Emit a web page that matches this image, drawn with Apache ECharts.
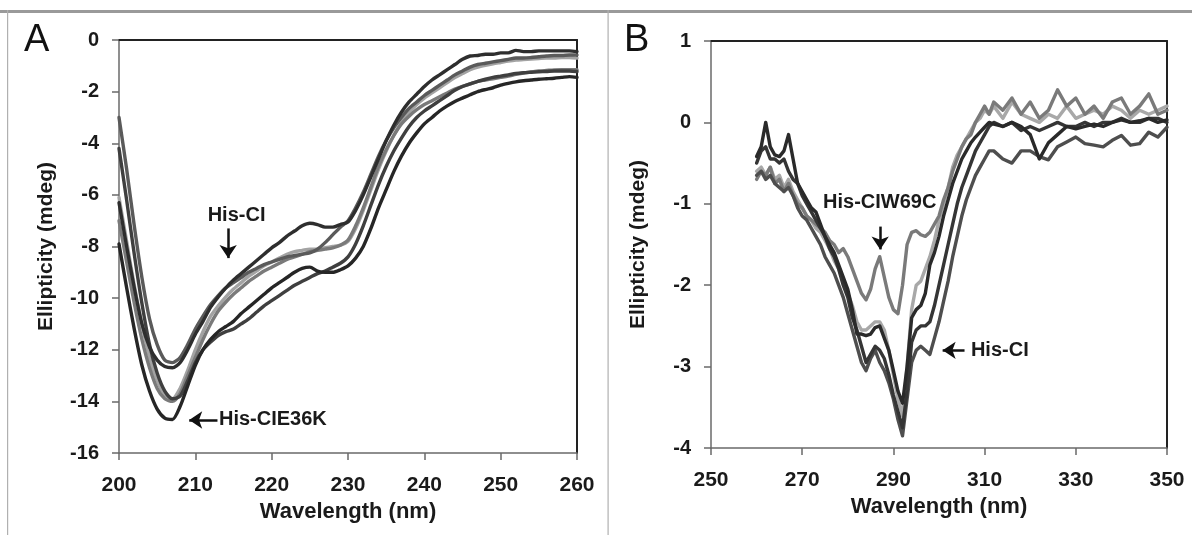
<!DOCTYPE html>
<html><head><meta charset="utf-8">
<script src="https://cdn.jsdelivr.net/npm/echarts@6/dist/echarts.min.js"></script>
<style>html,body{margin:0;padding:0;background:#fff}#c{width:1192px;height:535px}</style>
</head><body><div id="c"></div><script>
// ---------- Panel A data (wavelength nm, ellipticity mdeg) ----------
const wlA = [200,201,202,203,204,205,206,207,208,209,210,211,212,213,214,215,216,217,218,219,220,221,222,223,224,225,226,227,228,229,230,231,232,233,234,235,236,237,238,239,240,241,242,243,244,245,246,247,248,249,250,251,252,253,254,255,256,257,258,259,260];
const A_hisCI = [-6.3,-8.0,-9.6,-11.0,-11.9,-12.4,-12.65,-12.7,-12.5,-12.0,-11.4,-10.9,-10.35,-9.95,-9.6,-9.3,-9.05,-8.8,-8.55,-8.3,-8.05,-7.85,-7.6,-7.4,-7.2,-7.1,-7.15,-7.25,-7.25,-7.15,-7.05,-6.6,-6.0,-5.3,-4.6,-3.9,-3.3,-2.8,-2.4,-2.1,-1.8,-1.55,-1.35,-1.15,-0.95,-0.75,-0.62,-0.6,-0.55,-0.55,-0.5,-0.5,-0.4,-0.45,-0.45,-0.42,-0.42,-0.42,-0.42,-0.42,-0.45];
const A_s2 = [-3.0,-5.0,-7.2,-9.2,-10.8,-11.8,-12.4,-12.5,-12.3,-11.8,-11.2,-10.7,-10.25,-9.9,-9.6,-9.4,-9.2,-9.0,-8.85,-8.7,-8.6,-8.5,-8.4,-8.35,-8.3,-8.25,-8.1,-7.85,-7.55,-7.25,-7.0,-6.5,-5.9,-5.2,-4.5,-3.9,-3.4,-3.0,-2.65,-2.4,-2.15,-1.95,-1.75,-1.55,-1.35,-1.2,-1.05,-0.95,-0.9,-0.85,-0.8,-0.75,-0.7,-0.7,-0.68,-0.65,-0.62,-0.6,-0.6,-0.58,-0.58];
const A_s3 = [-6.1,-7.8,-9.5,-11.0,-12.3,-13.2,-13.75,-13.9,-13.5,-12.8,-12.0,-11.3,-10.7,-10.3,-9.95,-9.65,-9.4,-9.15,-8.95,-8.75,-8.6,-8.45,-8.3,-8.2,-8.15,-8.1,-8.1,-8.05,-8.0,-7.95,-7.8,-7.3,-6.6,-5.8,-5.0,-4.3,-3.7,-3.2,-2.8,-2.5,-2.25,-2.05,-1.85,-1.65,-1.45,-1.3,-1.15,-1.05,-0.98,-0.92,-0.87,-0.82,-0.78,-0.76,-0.74,-0.72,-0.7,-0.7,-0.68,-0.68,-0.7];
const A_s4 = [-7.0,-8.6,-10.2,-11.6,-12.7,-13.5,-13.9,-14.0,-13.7,-13.0,-12.3,-11.6,-11.0,-10.5,-10.15,-9.85,-9.6,-9.35,-9.15,-8.95,-8.8,-8.65,-8.5,-8.4,-8.3,-8.2,-8.15,-8.1,-8.05,-7.95,-7.75,-7.2,-6.5,-5.7,-4.9,-4.25,-3.7,-3.25,-2.95,-2.7,-2.5,-2.35,-2.2,-2.05,-1.9,-1.8,-1.7,-1.6,-1.55,-1.5,-1.45,-1.4,-1.33,-1.28,-1.24,-1.2,-1.18,-1.16,-1.15,-1.15,-1.15];
const A_hisCIE36K = [-7.9,-9.6,-11.2,-12.6,-13.6,-14.3,-14.65,-14.7,-14.2,-13.4,-12.6,-12.0,-11.6,-11.3,-11.1,-10.9,-10.6,-10.35,-10.1,-9.85,-9.6,-9.4,-9.2,-9.0,-8.85,-8.8,-8.95,-9.0,-9.0,-8.9,-8.75,-8.45,-8.0,-7.3,-6.5,-5.8,-5.1,-4.5,-4.0,-3.6,-3.25,-3.0,-2.75,-2.55,-2.38,-2.25,-2.12,-2.0,-1.92,-1.85,-1.75,-1.68,-1.62,-1.58,-1.55,-1.52,-1.5,-1.48,-1.45,-1.42,-1.45];
const A_s6 = [-4.2,-6.2,-8.3,-10.2,-11.8,-12.9,-13.6,-13.9,-13.8,-13.2,-12.5,-12.0,-11.7,-11.45,-11.3,-11.2,-11.0,-10.8,-10.55,-10.3,-10.1,-9.9,-9.7,-9.5,-9.35,-9.2,-9.05,-8.95,-8.8,-8.65,-8.4,-7.9,-7.2,-6.4,-5.6,-4.9,-4.3,-3.8,-3.35,-3.0,-2.75,-2.55,-2.35,-2.15,-1.95,-1.8,-1.7,-1.6,-1.52,-1.45,-1.4,-1.35,-1.3,-1.27,-1.25,-1.23,-1.22,-1.2,-1.2,-1.2,-1.22];

// ---------- Panel B data ----------
const wlB = [260,261,262,263,264,265,266,267,268,269,270,271,272,273,274,275,276,277,278,279,280,281,282,283,284,285,286,287,288,289,290,291,292,293,294,295,296,297,298,299,300,301,302,303,304,305,306,307,308,309,310,311,312,314,316,318,320,322,324,326,328,330,332,334,336,338,340,342,344,346,348,350];
const B_s3 = [-0.42,-0.3,0.0,-0.3,-0.4,-0.42,-0.35,-0.15,-0.45,-0.75,-0.85,-0.95,-1.05,-1.1,-1.25,-1.4,-1.5,-1.6,-1.75,-1.9,-2.05,-2.3,-2.6,-2.6,-2.62,-2.6,-2.52,-2.5,-2.65,-2.8,-3.05,-3.3,-3.45,-3.0,-2.4,-2.3,-2.25,-2.1,-1.75,-1.6,-1.4,-1.15,-0.95,-0.75,-0.6,-0.45,-0.35,-0.25,-0.18,-0.12,-0.06,0.0,-0.02,-0.05,0.0,-0.05,-0.15,-0.45,-0.25,-0.15,-0.05,-0.08,-0.05,-0.02,-0.05,0.0,0.03,0.0,0.02,0.05,0.0,0.03];
const B_hisCI = [-0.65,-0.6,-0.7,-0.65,-0.75,-0.8,-0.85,-0.8,-0.9,-1.05,-1.15,-1.2,-1.3,-1.4,-1.5,-1.65,-1.75,-1.85,-2.0,-2.15,-2.35,-2.55,-2.75,-2.95,-3.05,-2.9,-2.8,-2.95,-3.05,-3.2,-3.4,-3.65,-3.85,-3.4,-2.95,-2.8,-2.75,-2.8,-2.85,-2.65,-2.45,-2.2,-1.95,-1.65,-1.4,-1.15,-0.95,-0.8,-0.65,-0.55,-0.45,-0.35,-0.35,-0.45,-0.5,-0.35,-0.35,-0.42,-0.46,-0.3,-0.24,-0.18,-0.26,-0.28,-0.3,-0.22,-0.16,-0.28,-0.26,-0.12,-0.18,-0.06];
const B_s2 = [-0.6,-0.55,-0.65,-0.55,-0.7,-0.65,-0.8,-0.7,-0.85,-0.95,-1.05,-1.15,-1.2,-1.3,-1.35,-1.45,-1.55,-1.7,-1.8,-1.95,-2.1,-2.25,-2.45,-2.55,-2.55,-2.5,-2.45,-2.45,-2.55,-2.8,-3.1,-3.4,-3.6,-3.0,-2.3,-2.0,-1.95,-1.8,-1.65,-1.45,-1.2,-1.0,-0.8,-0.55,-0.4,-0.3,-0.2,-0.1,0.0,0.05,0.15,0.1,0.2,0.05,0.25,0.1,0.05,0.0,0.1,0.05,0.2,0.05,0.1,0.15,0.1,0.2,0.15,0.05,0.15,0.1,0.15,0.2];
const B_hisCIW69C = [-0.7,-0.6,-0.65,-0.55,-0.75,-0.7,-0.85,-0.75,-0.9,-1.0,-1.05,-1.15,-1.2,-1.25,-1.3,-1.35,-1.45,-1.5,-1.6,-1.55,-1.65,-1.8,-1.95,-2.1,-2.18,-2.05,-1.8,-1.65,-1.9,-2.15,-2.3,-2.35,-2.0,-1.5,-1.35,-1.33,-1.38,-1.4,-1.35,-1.25,-1.15,-0.95,-0.8,-0.6,-0.45,-0.3,-0.2,-0.15,0.0,0.1,0.2,0.1,0.25,0.15,0.3,0.1,0.25,0.05,0.15,0.4,0.2,0.3,0.1,0.2,0.05,0.25,0.3,0.1,0.2,0.35,0.1,0.15];
const B_s5 = [-0.5,-0.35,-0.3,-0.45,-0.45,-0.5,-0.45,-0.6,-0.7,-0.75,-0.9,-1.0,-1.1,-1.2,-1.3,-1.4,-1.55,-1.65,-1.8,-2.0,-2.15,-2.4,-2.55,-2.75,-2.95,-2.85,-2.75,-2.8,-2.9,-3.1,-3.35,-3.55,-3.75,-3.3,-2.7,-2.55,-2.5,-2.5,-2.45,-2.25,-2.0,-1.75,-1.5,-1.25,-1.0,-0.8,-0.65,-0.5,-0.35,-0.25,-0.15,-0.05,0.0,-0.05,0.0,-0.1,-0.05,-0.1,-0.05,0.0,-0.05,-0.05,0.0,-0.05,0.0,0.0,0.05,0.0,0.0,0.05,0.05,0.0];

// ---------- Axis tick settings ----------
const xTicksA = {min:200, max:260, interval:10};
const yTicksA = {min:-16, max:0, interval:2};
const xTicksB = {min:250, max:350, interval:20};
const yTicksB = {min:-4, max:1, interval:1};

const FONT = '"Liberation Sans", Arial, Helvetica, sans-serif';
const chart = echarts.init(document.getElementById('c'), null, {renderer:'canvas'});

const lblStyle = {fontFamily:FONT, fontSize:20, fontWeight:'bold', color:'#1a1a1a'};
const nameStyle = {fontFamily:FONT, fontSize:21, fontWeight:'bold', color:'#1a1a1a'};

function xAxes(g, t){
  return [
    {type:'value', gridIndex:g, position:'bottom', min:t.min, max:t.max, interval:t.interval,
     axisLine:{show:true, onZero:false, lineStyle:{color:'#6a6a6a', width:1.5}},
     axisTick:{show:true, inside:false, length:7, lineStyle:{color:'#6a6a6a', width:1.5}},
     axisLabel:Object.assign({}, lblStyle, {margin:22, fontSize:21}),
     splitLine:{show:false},
     name:'Wavelength (nm)', nameLocation:'middle', nameGap:47, nameTextStyle:Object.assign({}, nameStyle, {fontSize:22})},
    {type:'value', gridIndex:g, position:'top', min:t.min, max:t.max, interval:t.interval,
     axisLine:{show:true, onZero:false, lineStyle:{color:'#222', width:2}},
     axisTick:{show:false}, axisLabel:{show:false}, splitLine:{show:false}}
  ];
}
function yAxes(g, t){
  return [
    {type:'value', gridIndex:g, position:'left', min:t.min, max:t.max, interval:t.interval,
     axisLine:{show:true, onZero:false, lineStyle:{color:'#6a6a6a', width:1.5}},
     axisTick:{show:true, inside:false, length:7, lineStyle:{color:'#6a6a6a', width:1.5}},
     axisLabel:Object.assign({margin:20}, lblStyle),
     splitLine:{show:false},
     name:'Ellipticity (mdeg)', nameLocation:'middle', nameRotate:90, nameGap:62, nameTextStyle:nameStyle},
    {type:'value', gridIndex:g, position:'right', min:t.min, max:t.max, interval:t.interval,
     axisLine:{show:true, onZero:false, lineStyle:{color:'#222', width:2}},
     axisTick:{show:false}, axisLabel:{show:false}, splitLine:{show:false}}
  ];
}

function line(g, xs, ys, color, extra){
  return Object.assign({
    type:'line', xAxisIndex:g*2, yAxisIndex:g*2, data:xs.map((x,i)=>[x, ys[i]]),
    showSymbol:false, symbol:'none', smooth:g===0?0.25:false, silent:true, animation:false,
    lineStyle:{color:color, width:3.4, join:'round', cap:'round'}, z:3
  }, extra||{});
}

const annoText = {fontFamily:FONT, fontSize:20, fontWeight:'bold', color:'#1a1a1a'};
function textPoint(coord, text, position){
  return {coord:coord, symbol:'circle', symbolSize:0.01,
    label:Object.assign({show:true, formatter:text, position:position, distance:0}, annoText)};
}
const arrowLine = {symbol:['none','arrow'], symbolSize:13, symbolOffset:0, silent:true, animation:false,
  lineStyle:{color:'#111', width:2.5, type:'solid'}, itemStyle:{color:'#111'}, label:{show:false}, z:6};

const option = {
  animation:false,
  backgroundColor:'#fff',
  grid:[
    {left:119, top:40, width:458, height:413},
    {left:711, top:41, width:456, height:407}
  ],
  xAxis:[...xAxes(0, xTicksA), ...xAxes(1, xTicksB)],
  yAxis:[...yAxes(0, yTicksA), ...yAxes(1, yTicksB)],
  graphic:[
    {type:'rect', shape:{x:0, y:10, width:1192, height:3}, style:{fill:'#9a9a9a'}, silent:true},
    {type:'rect', shape:{x:7, y:10, width:1.2, height:525}, style:{fill:'#b0b0b0'}, silent:true},
    {type:'rect', shape:{x:607.5, y:10, width:1.2, height:525}, style:{fill:'#b0b0b0'}, silent:true},
    {type:'text', left:24, top:22, style:{text:'A', fontFamily:FONT, fontSize:38, fill:'#111'}},
    {type:'text', left:624, top:22, style:{text:'B', fontFamily:FONT, fontSize:38, fill:'#111'}}
  ],
  series:[
    line(0, wlA, A_s3, '#a3a3a3'),
    line(0, wlA, A_s4, '#7a7a7a'),
    line(0, wlA, A_s2, '#5a5a5a'),
    line(0, wlA, A_s6, '#3f3f3f'),
    line(0, wlA, A_hisCIE36K, '#262626', {
      markLine:Object.assign({data:[[{coord:[212.9,-14.72]},{coord:[209.2,-14.72]}]]}, arrowLine),
      markPoint:{silent:true, animation:false, data:[textPoint([213.1,-14.72],'His-CIE36K','right')]}
    }),
    line(0, wlA, A_hisCI, '#2e2e2e', {
      markLine:Object.assign({data:[[{coord:[214.3,-7.3]},{coord:[214.3,-8.45]}]]}, arrowLine),
      markPoint:{silent:true, animation:false, data:[textPoint([215.4,-6.8],'His-CI','inside')]}
    }),
    line(1, wlB, B_s2, '#a8a8a8'),
    line(1, wlB, B_hisCIW69C, '#7a7a7a', {
      markLine:Object.assign({data:[[{coord:[287.1,-1.28]},{coord:[287.1,-1.56]}]]}, arrowLine),
      markPoint:{silent:true, animation:false, data:[textPoint([287.0,-0.98],'His-CIW69C','inside')]}
    }),
    line(1, wlB, B_hisCI, '#4e4e4e', {
      markLine:Object.assign({data:[[{coord:[305.6,-2.8]},{coord:[300.8,-2.8]}]]}, arrowLine),
      markPoint:{silent:true, animation:false, data:[textPoint([307.0,-2.8],'His-CI','right')]}
    }),
    line(1, wlB, B_s5, '#353535'),
    line(1, wlB, B_s3, '#2a2a2a')
  ]
};
chart.setOption(option);
</script></body></html>
